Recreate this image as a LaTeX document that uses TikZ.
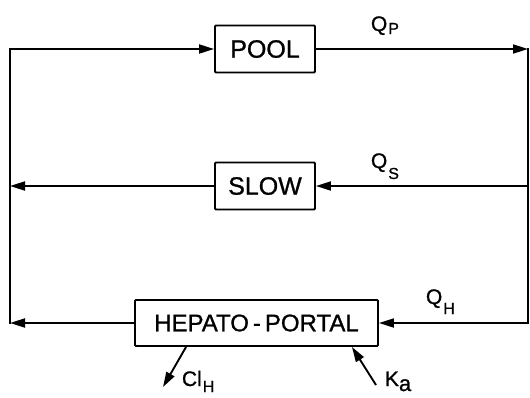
\documentclass[tikz,border=0pt]{standalone}
\usepackage{fontspec}
\setmainfont{Liberation Sans}
\newfontfamily\lettering[FakeBold=1]{Liberation Sans}
\usetikzlibrary{arrows.meta}
\newcommand\subtxt[2]{\kern1pt\raisebox{#1}{\fontsize{16}{16}\selectfont #2}}
\begin{document}
\begin{tikzpicture}[x=1pt,y=-1pt, line width=1.9pt,
  box/.style={draw, rounded corners=1pt, inner sep=0pt, font=\lettering\fontsize{25}{25}\selectfont},
  arr/.style={-{Triangle[length=15pt,width=9pt]}},
  plain/.style={line cap=rect},
  lbl/.style={anchor=base west, inner sep=0pt, font=\lettering\fontsize{21}{21}\selectfont}]
\useasboundingbox (0,0) rectangle (530,397);
% boxes
\node[box, minimum width=100pt, minimum height=47pt] (pool) at (265,49) {POOL};
\node[box, minimum width=100pt, minimum height=47pt] (slow) at (265,186) {SLOW};
\node[box, minimum width=243pt, minimum height=46pt, font=\lettering\fontsize{24}{24}\selectfont] (hep) at (256.5,323) {HEPATO\,-\,PORTAL};
% corner coordinates
\coordinate (tl) at (10,49);
\coordinate (ml) at (10,186);
\coordinate (bl) at (10,323);
\coordinate (tr) at (528,49);
\coordinate (mr) at (528,186);
\coordinate (br) at (528,323);
\coordinate (clend) at (163,387);
\coordinate (kastart) at (376,385);
% connectors
\draw[plain] (bl) -- (tl);
\draw[arr] (tl) -- (pool.west);
\draw[arr] (pool.east) -- (tr);
\draw[plain] (tr) -- (br);
\draw[arr] (mr) -- (slow.east);
\draw[arr] (slow.west) -- (ml);
\draw[arr] (br) -- (hep.east);
\draw[arr] (hep.west) -- (bl);
\draw[arr] ([xshift=52pt]hep.south west) -- (clend);
\draw[arr] (kastart) -- ([xshift=-27pt]hep.south east);
% labels
\node[lbl] (qp) at (370,31) {Q\subtxt{-3pt}{P}};
\node[lbl] (qs) at (370,168) {Q\subtxt{-11pt}{S}};
\node[lbl] (qh) at (425,304) {Q\subtxt{-10pt}{H}};
\node[lbl] (cl) at (181,386) {Cl\subtxt{-6pt}{H}};
\node[lbl] (ka) at (384,386) {K{\fontsize{22}{22}\selectfont\raisebox{-5pt}{a}}};
\end{tikzpicture}
\end{document}
